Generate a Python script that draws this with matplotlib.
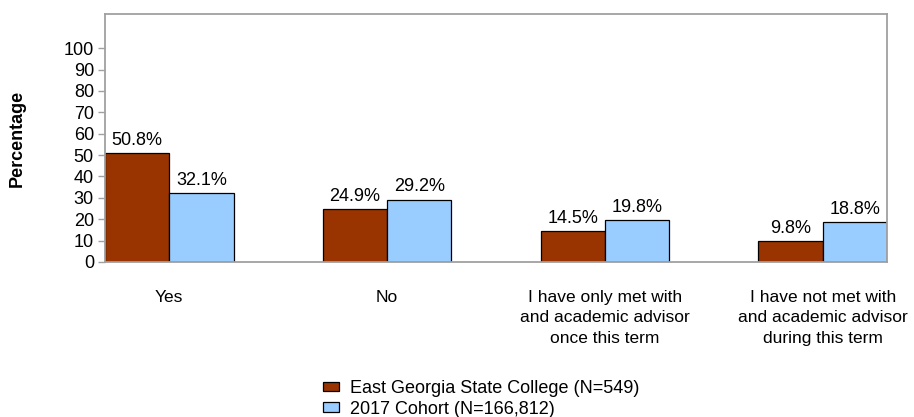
import matplotlib
matplotlib.use("Agg")
import matplotlib.pyplot as plt
import numpy as np

plt.rcParams['font.family'] = ['Liberation Sans', 'DejaVu Sans']

categories = ["Yes", "No", "I have only met with\nand academic advisor\nonce this term",
              "I have not met with\nand academic advisor\nduring this term"]
egsc = [50.8, 24.9, 14.5, 9.8]
cohort = [32.1, 29.2, 19.8, 18.8]
series_names = ["East Georgia State College (N=549)", "2017 Cohort (N=166,812)"]
yticks = list(range(0, 101, 10))

fig = plt.figure(figsize=(9.14, 4.17), dpi=100)
ax = fig.add_axes([105/914, 1-262/417, (887-105)/914, (262-14)/417])

x = np.arange(len(categories))
w = 0.295
b1 = ax.bar(x - w/2, egsc, w, color="#993300", edgecolor="black", linewidth=0.9, label=series_names[0])
b2 = ax.bar(x + w/2, cohort, w, color="#99CCFF", edgecolor="black", linewidth=0.9, label=series_names[1])

for bars, vals in ((b1, egsc), (b2, cohort)):
    for r, v in zip(bars, vals):
        ax.annotate(f"{v}%", (r.get_x() + r.get_width()/2, v), xytext=(0, 3),
                    textcoords="offset points", ha="center", va="bottom", fontsize=13)

ax.set_xlim(-w, len(categories) - 1 + w)
ax.set_ylim(0, 116)
ax.set_yticks(yticks)
ax.set_xticks(x)
ax.set_xticklabels(categories, fontsize=12.5, linespacing=1.45)
ax.tick_params(axis='x', length=0, pad=20)
ax.tick_params(axis='y', labelsize=13, length=5, color="#A0A0A0", width=1, pad=3)
for s in ax.spines.values():
    s.set_color("#A0A0A0")
    s.set_linewidth(1.3)

ax.set_ylabel("Percentage", fontsize=13, fontweight="bold")
ax.yaxis.set_label_coords(-(105-26)/782, 0.5)

fig.legend(handles=[b1, b2], labels=series_names, loc="upper left",
           bbox_to_anchor=(323/914, 1-380/417), frameon=False, fontsize=13,
           handlelength=0.9, handleheight=0.45, handletextpad=0.6, labelspacing=0.2,
           borderaxespad=0, borderpad=0)

fig.savefig("out.png", dpi=100)
